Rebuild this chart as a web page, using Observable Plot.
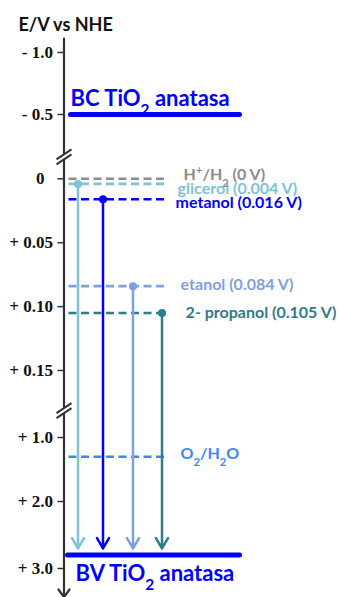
<!DOCTYPE html>
<html><head><meta charset="utf-8">
<script src="https://cdn.jsdelivr.net/npm/d3@7"></script>
<script src="https://cdn.jsdelivr.net/npm/@observablehq/plot@0.6"></script>
<style>html,body{margin:0;padding:0;background:#fff} svg{display:block}</style>
</head><body><div id="chart"></div>
<script>
// ---------- DATA ----------
const axisTitle = "E/V vs NHE";
const axisTicks = [-1.0, -0.5, 0, 0.05, 0.10, 0.15, 1.0, 2.0, 3.0];
const axisTickLabels = ["- 1.0", "- 0.5", "0\u00a0\u00a0", "+ 0.05", "+ 0.10", "+ 0.15", "+ 1.0", "+ 2.0", "+ 3.0"];
const axisBreaks = [-0.17, 0.66];
const bandLabels = ["BC TiO₂ anatasa", "BV TiO₂ anatasa"];
const bandPotentials = [-0.5, 2.8];
const coupleLabels = ["H⁺/H₂ (0 V)", "O₂/H₂O"];
const couplePotentials = [0, 1.3];
const alcohols = ["glicerol", "metanol", "etanol", "2- propanol"];
const alcoholPotentials = [0.004, 0.016, 0.084, 0.105];
const alcoholLabels = ["glicerol (0.004 V)", "metanol (0.016 V)", "etanol (0.084 V)", "2- propanol (0.105 V)"];
const transferEnd = 2.7; // arrows end just above the valence band

// ---------- STYLE / LAYOUT ----------
const alcoholColors = ["#7cc4d8", "#0000ff", "#7f9fe0", "#2e7c8c"];
const coupleColors = ["#8c8c8c", "#3a88f0"];
const bandColor = "#0000ff";
const axisColor = "#333333";
const L = {
  // broken (piecewise) potential axis
  yDomain: [-1, -0.5, 0, 0.15, 1, 2, 3],
  yRange: [52, 114, 178.3, 370, 437, 501, 568],
  arrowX: [0.7, 1.95, 3.45, 4.9],
  dashX1: 0.25, dashX2: 5.2,
  alcoholDashX2: [5.2, 5.2, 5.2, 4.9],
  alcoholLabelX: [5.68, 5.58, 5.83, 6.08],
  alcoholLabelDy: [5, 4, -1, 0],
  coupleLabelX: [5.98, 5.83],
  coupleLabelDy: [-4, -3],
  bandX1: [0.35, 0.2], bandX2: 8.8,
  bandLabelX: [0.33, 0.58], bandLabelDy: [-16, 18.5],
  axisTop: -1.113, axisBottom: 3.43
};
const labelFont = {fontFamily: "Lato, 'Open Sans', sans-serif", fontWeight: "bold"};
const brokenAxis = d3.scaleLinear().domain(L.yDomain).range(L.yRange);

const alcoholRows = alcohols.map((name, i) => ({name, E: alcoholPotentials[i], label: alcoholLabels[i], i}));
const coupleRows = coupleLabels.map((label, i) => ({label, E: couplePotentials[i], i}));
const bandRows = bandLabels.map((label, i) => ({label, E: bandPotentials[i], i}));
const tickFmt = new Map(axisTicks.map((t, i) => [brokenAxis(t), axisTickLabels[i]]));

// custom break symbols
const breakGap = {draw(ctx) { ctx.moveTo(-3, -0.5); ctx.lineTo(3, -4.5); ctx.lineTo(3, 0.5); ctx.lineTo(-3, 4.5); ctx.closePath(); }};
const breakSlash = {draw(ctx) { ctx.moveTo(-7.5, 2.5); ctx.lineTo(7.5, -7.5); ctx.moveTo(-7.5, 7.5); ctx.lineTo(7.5, -2.5); }};

const chart = Plot.plot({
  width: 338, height: 597,
  marginLeft: 63.5, marginTop: 0, marginRight: 0, marginBottom: 0,
  x: {domain: [0, 10], range: [63.5, 263.5], axis: null},
  y: {transform: brokenAxis, domain: [0, 597], range: [0, 597], axis: null},
  style: {background: "#fff", overflow: "visible"},
  marks: [
    // title
    Plot.text([axisTitle], {frameAnchor: "top-left", dx: -45.5, dy: 25, lineAnchor: "middle", textAnchor: "start",
      fontSize: 18, fill: "#111", ...labelFont}),
    // axis
    Plot.arrow([0], {x1: () => 0, x2: () => 0, y1: () => L.axisTop, y2: () => L.axisBottom,
      stroke: axisColor, strokeWidth: 2.2, headLength: 6.5, headAngle: 70}),
    Plot.axisY({ticks: axisTicks.map(brokenAxis), tickFormat: d => tickFmt.get(d), tickSize: 6, tickPadding: 5, label: null,
      fontSize: 17, fontFamily: "'Liberation Serif', serif", fontWeight: "bold", color: "#111", stroke: axisColor, strokeWidth: 1.5}),
    Plot.dot(axisBreaks, {x: () => 0, y: d => d, symbol: breakGap, fill: "#fff", stroke: "none"}),
    Plot.dot(axisBreaks, {x: () => 0, y: d => d, symbol: breakSlash, fill: "none", stroke: axisColor, strokeWidth: 2}),
    // redox couples (dashed)
    Plot.ruleY(coupleRows, {y: "E", x1: () => L.dashX1, x2: () => L.dashX2, stroke: d => coupleColors[d.i],
      strokeWidth: 2.6, strokeDasharray: "8,4.5"}),
    // alcohol levels (dashed)
    Plot.ruleY(alcoholRows, {y: "E", x1: () => L.dashX1, x2: d => L.alcoholDashX2[d.i], stroke: d => alcoholColors[d.i],
      strokeWidth: 2.6, strokeDasharray: "8,4.5"}),
    // bands
    Plot.ruleY(bandRows, {y: "E", x1: d => L.bandX1[d.i], x2: () => L.bandX2, stroke: bandColor, strokeWidth: 5, strokeLinecap: "round"}),
    // electron transfer arrows
    Plot.arrow(alcoholRows, {x1: d => L.arrowX[d.i], x2: d => L.arrowX[d.i], y1: "E", y2: () => transferEnd,
      stroke: d => alcoholColors[d.i], strokeWidth: 2.5, headLength: 7.2, headAngle: 60}),
    Plot.dot(alcoholRows, {x: d => L.arrowX[d.i], y: "E", r: 4, fill: d => alcoholColors[d.i], stroke: "none"}),
    // labels
    ...alcoholRows.map((d, i) => Plot.text([d], {x: () => L.alcoholLabelX[i], y: "E", text: "label", dy: L.alcoholLabelDy[i],
      textAnchor: "start", fill: alcoholColors[i], fontSize: 16, ...labelFont})),
    ...coupleRows.map((d, i) => Plot.text([d], {x: () => L.coupleLabelX[i], y: "E", text: "label", dy: L.coupleLabelDy[i],
      textAnchor: "start", fill: coupleColors[i], fontSize: 16, ...labelFont})),
    ...bandRows.map((d, i) => Plot.text([d], {x: () => L.bandLabelX[i], y: "E", text: "label", dy: L.bandLabelDy[i],
      textAnchor: "start", fill: bandColor, fontSize: 22, ...labelFont}))
  ]
});

// tick label typography (serif bold, as in the reference)
const tickLabelSet = new Set(axisTickLabels);
d3.select(chart).selectAll("text").filter(function() { return tickLabelSet.has(this.textContent); })
  .attr("font-size", 17).style("font-size", "17px")
  .attr("font-family", "'Liberation Serif', 'Times New Roman', serif").attr("font-weight", "bold").attr("fill", "#111");

// render sub/superscripts as real tspans
d3.select(chart).selectAll("text").each(function() {
  const t = this.textContent;
  if (!/[₂⁺]/.test(t)) return;
  const el = d3.select(this);
  el.text(null);
  let buf = "";
  const flush = () => { if (buf) { el.append("tspan").text(buf); buf = ""; } };
  for (const ch of t) {
    if (ch === "₂" || ch === "⁺") {
      flush();
      el.append("tspan").attr("font-size", "70%").attr("baseline-shift", ch === "₂" ? "sub" : "super").text(ch === "₂" ? "2" : "+");
    } else buf += ch;
  }
  flush();
});

document.getElementById("chart").append(chart);
</script>
</body></html>
